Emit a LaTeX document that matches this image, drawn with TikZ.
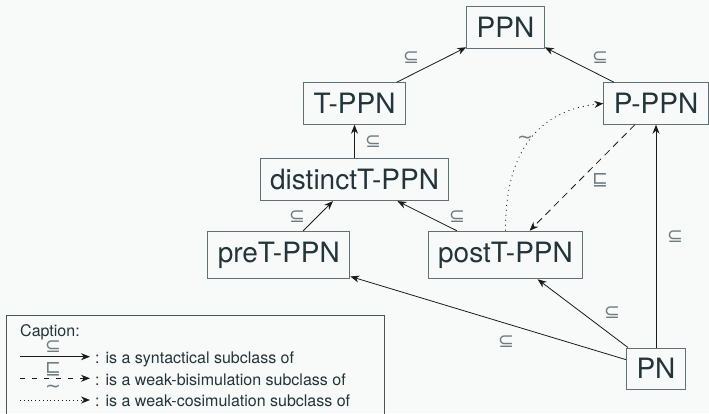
\documentclass[tikz,border=0pt]{standalone}
\usepackage{fontspec}
\setmainfont{TeX Gyre Heros}
\newfontfamily\symf{DejaVu Sans}
\usetikzlibrary{arrows.meta}
\definecolor{bg}{HTML}{F8F9F9}
\definecolor{boxc}{HTML}{5E7174}
\definecolor{txt}{HTML}{22353A}
\definecolor{lblc}{HTML}{6E7B80}
\definecolor{edgec}{HTML}{1A1A1A}
\definecolor{capc}{HTML}{4A5558}
\begin{document}
\begin{tikzpicture}[x=1pt,y=-1pt,
  cls/.style={draw=boxc, line width=1pt, text=txt, inner xsep=10pt, inner ysep=10.5pt, font=\fontsize{28}{32}\selectfont},
  lbl/.style={text=lblc, inner sep=0pt, font=\symf\fontsize{19}{22}\selectfont},
  sub/.style={draw=edgec, line width=0.8pt, -{Stealth[length=9pt,width=7pt]}},
  wbis/.style={sub, dash pattern=on 7pt off 5pt},
  wcos/.style={sub, dash pattern=on 1pt off 4pt},
  captxt/.style={text=txt, inner sep=0pt, anchor=base west, font=\fontsize{16}{19}\selectfont}]
\useasboundingbox (0,0) rectangle (709,413);
\clip (0,0) rectangle (709,413);
\fill[bg] (0,0) rectangle (709,413);

% classes
\node[cls] (ppn)  at (505.5,27.5) {PPN};
\node[cls] (tppn) at (354.5,103.5) {T-PPN};
\node[cls] (pppn) at (656,103.5) {P-PPN};
\node[cls] (dist) at (354.5,179.7) {distinctT-PPN};
\node[cls] (pre)  at (278.8,255) {preT-PPN};
\node[cls] (post) at (505.5,255) {postT-PPN};
\node[cls] (pn)   at (656,368.7) {PN};

% connectors
\draw[sub] (tppn) -- (ppn);
\draw[sub] (pppn) -- (ppn);
\draw[sub] (dist) -- (tppn);
\draw[sub] (pre) -- (dist);
\draw[sub] (post) -- (dist);
\draw[sub] (pn) -- (pre);
\draw[sub] (pn) -- (post);
\draw[sub] (pn) -- (pppn);
\draw[wbis] (pppn) -- (post);
\draw[wcos] (post.north) .. controls (505,150) and (540,110) .. (pppn.west);

% labels
\node[lbl] (l1) at (411,58) {⊆};
\node[lbl] (l2) at (373,142) {⊆};
\node[lbl] (l3) at (600,58) {⊆};
\node[lbl] (l4) at (600,180) {⊑};
\node[lbl] (l5) at (525,140) {∼};
\node[lbl] (l6) at (297,217) {⊆};
\node[lbl] (l7) at (457,217) {⊆};
\node[lbl] (l8) at (675,237) {⊆};
\node[lbl] (l9) at (612,313) {⊆};
\node[lbl] (l10) at (506,342) {⊆};

% caption
\draw[capc, line width=0.8pt] (6,315) rectangle (384,430);
\node[captxt] (cap) at (20,336) {Caption:};
\coordinate (a1) at (20,356.7); \coordinate (b1) at (90,356.7);
\coordinate (a2) at (20,378.3); \coordinate (b2) at (90,378.3);
\coordinate (a3) at (20,400);   \coordinate (b3) at (90,400);
\draw[sub] (a1) -- (b1);
\draw[wbis, dash pattern=on 5pt off 7pt] (a2) -- (b2);
\draw[wcos, dash pattern=on 0.8pt off 3pt] (a3) -- (b3);
\node[lbl] (cl1) at (53,347) {⊆};
\node[lbl] (cl2) at (53,369) {⊑};
\node[lbl] (cl3) at (53,389) {∼};
\node[captxt] (t1) at (95,363) {: is a syntactical subclass of};
\node[captxt] (t2) at (95,385) {: is a weak-bisimulation subclass of};
\node[captxt] (t3) at (95,406.7) {: is a weak-cosimulation subclass of};
\end{tikzpicture}
\end{document}
